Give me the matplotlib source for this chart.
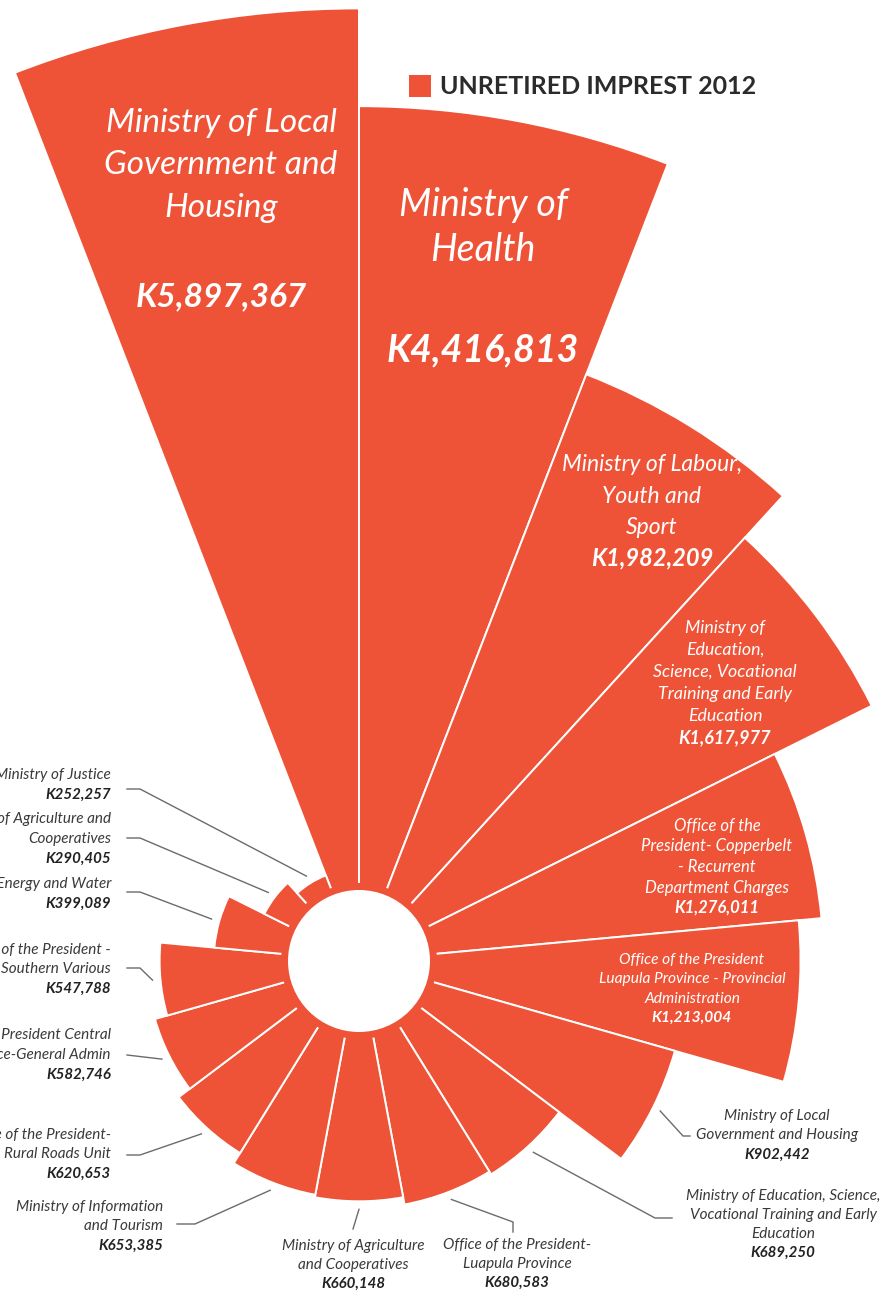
import numpy as np
import matplotlib
matplotlib.use('Agg')
import matplotlib.pyplot as plt
from matplotlib import font_manager as fm
from matplotlib.lines import Line2D
from matplotlib.patches import Circle, Rectangle

# data, clockwise from 12 o'clock
names = [
    'Ministry of Local\nGovernment and\nHousing',
    'Ministry of\nHealth',
    'Ministry of Labour,\nYouth and\nSport',
    'Ministry of\nEducation,\nScience, Vocational\nTraining and Early\nEducation',
    'Office of the\nPresident- Copperbelt\n- Recurrent\nDepartment Charges',
    'Office of the President\nLuapula Province - Provincial\nAdministration',
    'Ministry of Local\nGovernment and Housing',
    'Ministry of Education, Science,\nVocational Training and Early\nEducation',
    'Office of the President-\nLuapula Province',
    'Ministry of Agriculture\nand Cooperatives',
    'Ministry of Information\nand Tourism',
    'Office of the President-\nRural Roads Unit',
    'Office of the President Central\nProvince-General Admin',
    'Office of the President -\nSouthern Various',
    'Ministry of Energy and Water',
    'Ministry of Agriculture and\nCooperatives',
    'Ministry of Justice',
]
values = [5897367, 4416813, 1982209, 1617977, 1276011, 1213004, 902442,
          689250, 680583, 660148, 653385, 620653, 582746, 547788,
          399089, 290405, 252257]

ORANGE = '#EF5337'
W, H = 886, 1291

avail = {(f.name, f.style) for f in fm.fontManager.ttflist}
FAM = next((n for n in ['Lato', 'Open Sans', 'Roboto', 'Noto Sans']
            if (n, 'italic') in avail), 'DejaVu Sans')

# radial scale: linear for the small ones, compressed above T
T, K, P = 1.28e6, 182.3, 0.58
RMAX = 6.0e6
PX_PER_UNIT = 0.364e-3


def fwd(v):
    v = np.asarray(v, dtype=float)
    return np.where(v <= T, v, T + K * np.clip(v - T, 0, None) ** P)


def inv(f):
    f = np.asarray(f, dtype=float)
    return np.where(f <= T, f, T + (np.clip(f - T, 0, None) / K) ** (1 / P))


fig = plt.figure(figsize=(W / 100, H / 100), dpi=100)
fig.patch.set_facecolor('white')

# polar axes, centre at (359, 961) px
cx, cy = 359, 961
R = float(fwd(RMAX)) * PX_PER_UNIT
ax = fig.add_axes([(cx - R) / W, (H - cy - R) / H, 2 * R / W, 2 * R / H],
                  projection='polar')
ax.set_theta_zero_location('N')
ax.set_theta_direction(-1)
ax.set_rscale('function', functions=(fwd, inv))
ax.set_ylim(0, RMAX)
ax.axis('off')

n = len(values)
w = 2 * np.pi / n
theta = (np.arange(n) - 0.5) * w
ax.bar(theta, values, width=w, bottom=0, align='center', color=ORANGE,
       edgecolor='white', linewidth=1.4)

# ring + hole
ax.add_patch(Circle((0.5, 0.5), 78 / (2 * R), transform=ax.transAxes,
                    color=ORANGE, lw=0, zorder=3))
ax.add_patch(Circle((0.5, 0.5), 71 / (2 * R), transform=ax.transAxes,
                    color='white', lw=0, zorder=4))


def px(x, y):
    return x / W, 1 - y / H


def block(x, ys, lines, ha, size, vsize, color, vcolor):
    for i, (y, s) in enumerate(zip(ys, lines)):
        last = i == len(lines) - 1
        fig.text(*px(x, y), s, ha=ha, va='center',
                 fontsize=vsize if last else size,
                 color=vcolor if last else color, style='italic',
                 weight='bold' if last else 'normal', family=[FAM, 'DejaVu Sans'])


# labels inside the big bars: x, first line y, spacing, value y, size, value size
inner = [
    (221, 123, 42.5, 297, 24, 24),
    (483, 205, 45, 350, 27, 27),
    (652, 465, 31.5, 558, 16.5, 17),
    (725, 628, 22, 738, 12.8, 13),
    (717, 826, 20.5, 908, 12, 12),
    (692, 960, 19.3, 1018, 11.2, 11.2),
]
for i, (x, y0, sp, vy, size, vsize) in enumerate(inner):
    lines = names[i].split('\n')
    ys = [y0 + k * sp for k in range(len(lines))] + [vy]
    block(x, ys, lines + [f'K{values[i]:,}'], 'center', size, vsize,
          'white', 'white')

# labels outside: index, x, first line y, spacing, ha, leader points (px)
outer = [
    (16, 111, 775, 19.5, 'right', [(127, 789), (140, 789)]),
    (15, 111, 819, 19.7, 'right', [(127, 838), (140, 838)]),
    (14, 111, 884, 19.5, 'right', [(127, 892), (140, 892)]),
    (13, 111, 950, 19.2, 'right', [(127, 968), (140, 968)]),
    (12, 111, 1035, 19.8, 'right', [(127, 1055)]),
    (11, 111, 1135, 19.2, 'right', [(127, 1155), (140, 1155)]),
    (10, 163, 1207, 19.2, 'right', [(177, 1224), (195, 1224)]),
    (9, 353, 1246, 18.7, 'center', [(353, 1229)]),
    (8, 517, 1245, 19.0, 'center', [(513, 1232), (513, 1222)]),
    (7, 783, 1196, 18.8, 'center', [(672, 1218), (655, 1218)]),
    (6, 777, 1116, 19.5, 'center', [(690, 1136), (683, 1136)]),
]
c0 = ax.transData.transform((0, 0))
for i, x, y0, sp, ha, pts in outer:
    lines = names[i].split('\n') + [f'K{values[i]:,}']
    ys = [y0 + k * sp for k in range(len(lines))]
    block(x, ys, lines, ha, 11, 10.8, '#3a3a3a', '#222222')
    tip = ax.transData.transform((theta[i], values[i]))
    d = (tip - c0) / np.hypot(*(tip - c0))
    end = tip + d * 8
    xs = [p[0] / W for p in pts] + [end[0] / W]
    ys_ = [1 - p[1] / H for p in pts] + [end[1] / H]
    fig.add_artist(Line2D(xs, ys_, transform=fig.transFigure,
                          color='#6b6b6b', lw=1.0))

# legend
fig.add_artist(Rectangle(px(409, 97), 22 / W, 22 / H, transform=fig.transFigure,
                         color=ORANGE, lw=0))
fig.text(*px(440, 86), 'UNRETIRED IMPREST 2012', ha='left', va='center',
         fontsize=18, weight='bold', color='#2b2b2b',
         family=[FAM, 'DejaVu Sans'])

fig.savefig('out.png', dpi=100)
